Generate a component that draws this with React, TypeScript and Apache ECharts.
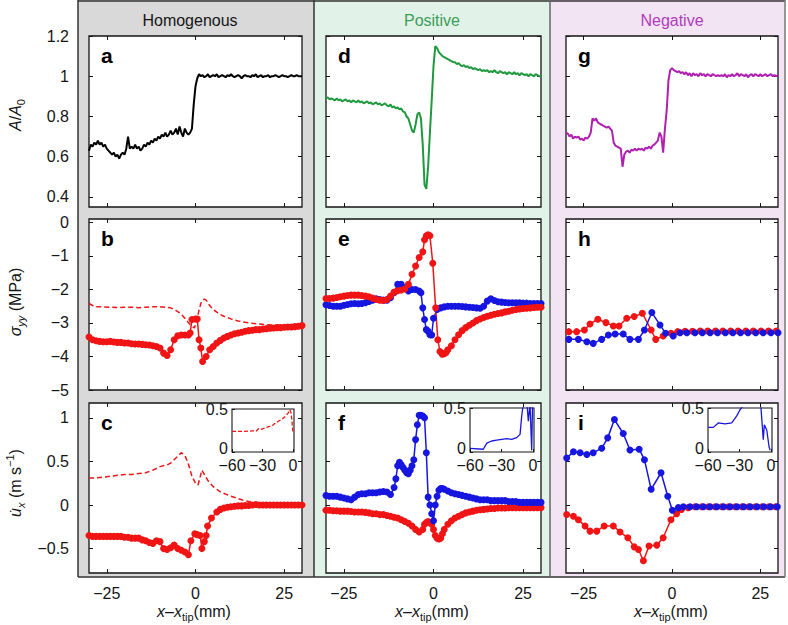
import React, { useEffect, useRef } from "react";
import * as echarts from "echarts";

// ---------------- DATA ----------------
const xTickValues = [-25, 0, 25];
const yTickValuesArea = [0.4, 0.6, 0.8, 1, 1.2];
const yTickValuesStress = [-5, -4, -3, -2, -1, 0];
const yTickValuesVel = [-0.5, 0, 0.5, 1];
const insetXTickValues = [-60, -30, 0];
const insetYTickValues = [0, 0.5];

const columnTitles = ["Homogenous", "Positive", "Negative"];
const panelLetters = [["a", "b", "c"], ["d", "e", "f"], ["g", "h", "i"]];

// a: homogeneous A/A0
const areaHom: number[][] = [[-30,0.63],[-29.5,0.66],[-29,0.65],[-28.5,0.67],[-28,0.66],[-27.5,0.68],[-27,0.66],[-26.5,0.67],[-26,0.65],[-25.5,0.66],[-25,0.64],[-24.5,0.63],[-24,0.62],[-23.5,0.61],[-23,0.62],[-22.5,0.6],[-22,0.61],[-21.5,0.59],[-21,0.61],[-20.5,0.62],[-20,0.61],[-19.5,0.64],[-19,0.7],[-18.5,0.64],[-18,0.65],[-17.5,0.64],[-17,0.66],[-16.5,0.64],[-16,0.65],[-15.5,0.63],[-15,0.64],[-14.5,0.66],[-14,0.65],[-13.5,0.67],[-13,0.66],[-12.5,0.68],[-12,0.67],[-11.5,0.69],[-11,0.68],[-10.5,0.7],[-10,0.69],[-9.5,0.71],[-9,0.7],[-8.5,0.72],[-8,0.7],[-7.5,0.71],[-7,0.73],[-6.5,0.71],[-6,0.72],[-5.5,0.74],[-5,0.71],[-4.5,0.75],[-4,0.72],[-3.5,0.7],[-3,0.74],[-2.5,0.72],[-2,0.71],[-1.5,0.72],[-1,0.74],[-0.5,0.86],[0,0.95],[0.5,0.99],[1,1.01],[1.5,1.0],[2,1.005],[2.5,0.995],[3,1.0],[3.5,1.01],[4,0.995],[4.5,1.0],[5,1.005],[5.5,1.0],[6,1.01],[6.5,0.995],[7,1.0],[7.5,1.005],[8,1.0],[8.5,0.995],[9,1.005],[9.5,1.0],[10,1.01],[10.5,1.0],[11,0.995],[11.5,1.0],[12,1.005],[12.5,1.0],[13,0.99],[13.5,1.0],[14,1.005],[14.5,1.0],[15,1.0],[15.5,0.995],[16,1.005],[16.5,1.0],[17,1.01],[17.5,0.995],[18,1.0],[18.5,1.005],[19,0.995],[19.5,1.0],[20,1.0],[20.5,1.005],[21,0.995],[21.5,1.0],[22,1.0],[22.5,1.005],[23,1.0],[23.5,0.995],[24,1.0],[24.5,1.005],[25,1.0],[25.5,1.0],[26,0.995],[26.5,1.0],[27,1.005],[27.5,1.0],[28,1.0],[28.5,1.005],[29,1.0],[29.5,1.0],[30,1.0]];

// d: positive A/A0
const areaPos: number[][] = [[-30,0.89],[-29.5,0.895],[-29,0.885],[-28.5,0.89],[-28,0.885],[-27.5,0.88],[-27,0.89],[-26.5,0.88],[-26,0.885],[-25.5,0.875],[-25,0.88],[-24.5,0.885],[-24,0.875],[-23.5,0.88],[-23,0.87],[-22.5,0.88],[-22,0.875],[-21.5,0.87],[-21,0.88],[-20.5,0.87],[-20,0.875],[-19.5,0.865],[-19,0.87],[-18.5,0.875],[-18,0.865],[-17.5,0.87],[-17,0.86],[-16.5,0.865],[-16,0.87],[-15.5,0.86],[-15,0.865],[-14.5,0.855],[-14,0.86],[-13.5,0.865],[-13,0.855],[-12.5,0.85],[-12,0.86],[-11.5,0.845],[-11,0.85],[-10.5,0.84],[-10,0.845],[-9.5,0.835],[-9,0.84],[-8.5,0.825],[-8,0.82],[-7.5,0.8],[-7,0.79],[-6.5,0.76],[-6,0.73],[-5.5,0.72],[-5,0.76],[-4.5,0.81],[-4,0.82],[-3.5,0.79],[-3,0.66],[-2.5,0.46],[-2,0.44],[-1.5,0.55],[-1,0.72],[-0.5,0.88],[0,1.05],[0.5,1.15],[1,1.14],[1.5,1.12],[2,1.11],[2.5,1.1],[3,1.095],[3.5,1.09],[4,1.085],[4.5,1.08],[5,1.075],[5.5,1.07],[6,1.07],[6.5,1.06],[7,1.065],[7.5,1.055],[8,1.05],[8.5,1.055],[9,1.045],[9.5,1.05],[10,1.04],[10.5,1.045],[11,1.035],[11.5,1.04],[12,1.035],[12.5,1.03],[13,1.035],[13.5,1.025],[14,1.03],[14.5,1.025],[15,1.03],[15.5,1.02],[16,1.025],[16.5,1.02],[17,1.03],[17.5,1.02],[18,1.015],[18.5,1.025],[19,1.02],[19.5,1.015],[20,1.02],[20.5,1.01],[21,1.02],[21.5,1.015],[22,1.01],[22.5,1.02],[23,1.01],[23.5,1.015],[24,1.005],[24.5,1.015],[25,1.01],[25.5,1.005],[26,1.01],[26.5,1.0],[27,1.01],[27.5,1.005],[28,1.0],[28.5,1.01],[29,1.005],[29.5,1.0],[30,1.0]];

// g: negative A/A0
const areaNeg: number[][] = [[-30,0.72],[-29.5,0.715],[-29,0.7],[-28.5,0.71],[-28,0.69],[-27.5,0.7],[-27,0.695],[-26.5,0.7],[-26,0.685],[-25.5,0.69],[-25,0.68],[-24.5,0.695],[-24,0.69],[-23.5,0.7],[-23,0.72],[-22.5,0.79],[-22,0.78],[-21.5,0.79],[-21,0.77],[-20.5,0.765],[-20,0.76],[-19.5,0.755],[-19,0.75],[-18.5,0.745],[-18,0.75],[-17.5,0.74],[-17,0.73],[-16.5,0.67],[-16,0.655],[-15.5,0.65],[-15,0.645],[-14.5,0.64],[-14,0.55],[-13.5,0.61],[-13,0.625],[-12.5,0.63],[-12,0.62],[-11.5,0.635],[-11,0.63],[-10.5,0.64],[-10,0.63],[-9.5,0.64],[-9,0.635],[-8.5,0.64],[-8,0.63],[-7.5,0.645],[-7,0.64],[-6.5,0.65],[-6,0.64],[-5.5,0.655],[-5,0.66],[-4.5,0.67],[-4,0.68],[-3.5,0.72],[-3,0.7],[-2.5,0.62],[-2,0.74],[-1.5,0.83],[-1,0.98],[-0.5,1.03],[0,1.04],[0.5,1.03],[1,1.025],[1.5,1.02],[2,1.025],[2.5,1.015],[3,1.02],[3.5,1.01],[4,1.02],[4.5,1.005],[5,1.015],[5.5,1.0],[6,1.015],[6.5,1.005],[7,1.01],[7.5,1.0],[8,1.015],[8.5,1.005],[9,1.01],[9.5,1.0],[10,1.01],[10.5,1.005],[11,1.0],[11.5,1.01],[12,1.005],[12.5,1.0],[13,1.005],[13.5,1.0],[14,1.005],[14.5,1.0],[15,1.01],[15.5,0.995],[16,1.005],[16.5,1.0],[17,1.01],[17.5,1.0],[18,1.005],[18.5,1.015],[19,1.0],[19.5,1.01],[20,1.005],[20.5,1.0],[21,1.01],[21.5,0.995],[22,1.005],[22.5,1.01],[23,1.0],[23.5,1.01],[24,1.005],[24.5,1.0],[25,1.01],[25.5,1.0],[26,1.005],[26.5,1.01],[27,1.0],[27.5,1.005],[28,1.01],[28.5,1.0],[29,1.005],[29.5,1.0],[30,1.005]];

// b: homogeneous stress
const stressHomMeasured: number[][] = [[-30,-3.42],[-29,-3.5],[-28,-3.53],[-27,-3.55],[-26,-3.56],[-25,-3.56],[-24,-3.55],[-23,-3.57],[-22,-3.58],[-21,-3.58],[-20,-3.6],[-19,-3.6],[-18,-3.62],[-17,-3.63],[-16,-3.63],[-15,-3.64],[-14,-3.65],[-13,-3.66],[-12,-3.68],[-11,-3.7],[-10,-3.75],[-9,-3.9],[-8,-3.97],[-7,-3.8],[-6,-3.5],[-5,-3.38],[-4,-3.36],[-3,-3.36],[-2,-3.36],[-1.5,-3.3],[-1,-2.9],[0,-2.88],[0.5,-2.88],[1,-3.5],[1.5,-3.75],[2,-4.15],[3,-4.0],[4,-3.8],[5,-3.7],[6,-3.6],[7,-3.52],[8,-3.45],[9,-3.4],[10,-3.36],[11,-3.32],[12,-3.3],[13,-3.28],[14,-3.25],[15,-3.23],[16,-3.22],[17,-3.2],[18,-3.2],[19,-3.18],[20,-3.17],[21,-3.16],[22,-3.15],[23,-3.14],[24,-3.14],[25,-3.13],[26,-3.12],[27,-3.12],[28,-3.11],[29,-3.1],[30,-3.08]];
const stressHomModel: number[][] = [[-30,-2.42],[-29,-2.48],[-28,-2.52],[-26,-2.52],[-24,-2.53],[-22,-2.54],[-20,-2.53],[-18,-2.53],[-16,-2.55],[-14,-2.53],[-12,-2.52],[-10,-2.52],[-8,-2.54],[-7,-2.55],[-6,-2.6],[-5,-2.66],[-4,-2.74],[-3,-2.86],[-2,-2.99],[-1,-3.1],[-0.3,-3.15],[0.3,-2.95],[1,-2.62],[1.5,-2.42],[2,-2.32],[2.5,-2.29],[3,-2.32],[3.5,-2.4],[4,-2.48],[5,-2.6],[6,-2.68],[7,-2.75],[8,-2.8],[10,-2.88],[12,-2.94],[14,-2.98],[16,-3.01],[18,-3.03],[20,-3.05],[22,-3.06],[24,-3.07],[26,-3.08],[28,-3.09],[30,-3.1]];

// c: homogeneous velocity
const velHomMeasured: number[][] = [[-30,-0.35],[-29,-0.36],[-28,-0.36],[-27,-0.36],[-26,-0.36],[-25,-0.36],[-24,-0.36],[-23,-0.36],[-22,-0.36],[-21,-0.36],[-20,-0.37],[-19,-0.37],[-18,-0.38],[-17,-0.38],[-16,-0.38],[-15,-0.4],[-14,-0.41],[-13,-0.43],[-12,-0.44],[-11,-0.41],[-10,-0.42],[-9,-0.5],[-8,-0.51],[-7,-0.49],[-6,-0.46],[-5,-0.5],[-4,-0.52],[-3,-0.54],[-2,-0.57],[-1.3,-0.41],[-0.2,-0.33],[0.5,-0.34],[1.3,-0.35],[1.8,-0.5],[2.5,-0.42],[3,-0.35],[3.4,-0.24],[4.5,-0.15],[6,-0.08],[7,-0.05],[8,-0.035],[9,-0.025],[10,-0.02],[11,-0.015],[12,-0.01],[13,-0.01],[14,-0.005],[15,-0.005],[16,0.0],[17,0.005],[18,0.0],[19,0.0],[20,0.0],[21,0.0],[22,0.0],[23,0.0],[24,0.0],[25,0.0],[26,0.0],[27,0.0],[28,0.0],[29,0.0],[30,0.0]];
const velHomModel: number[][] = [[-30,0.31],[-28,0.31],[-26,0.32],[-24,0.33],[-22,0.34],[-20,0.35],[-18,0.35],[-16,0.36],[-14,0.37],[-12,0.4],[-10,0.44],[-8,0.46],[-7,0.48],[-6,0.52],[-5,0.56],[-4,0.6],[-3,0.57],[-2,0.47],[-1,0.33],[0,0.25],[0.7,0.23],[1.3,0.32],[1.8,0.4],[2.5,0.35],[3.5,0.28],[5,0.21],[7,0.15],[10,0.1],[13,0.06],[16,0.03],[19,0.01],[22,0.005],[25,0.0],[30,0.0]];
const velHomInset: number[][] = [[-60,0.24],[-50,0.24],[-40,0.245],[-36,0.245],[-34,0.27],[-32,0.26],[-30,0.27],[-25,0.29],[-20,0.31],[-18,0.33],[-14,0.36],[-10,0.39],[-7,0.42],[-5,0.45],[-3,0.49],[-2,0.46],[-1,0.36],[0,0.22]];

// e: positive stress
const stressPosRed: number[][] = [[-30,-2.27],[-29,-2.27],[-28,-2.26],[-27,-2.24],[-26,-2.22],[-25,-2.2],[-24,-2.18],[-23,-2.17],[-22,-2.17],[-21,-2.17],[-20,-2.18],[-19,-2.2],[-18,-2.22],[-17,-2.26],[-16,-2.3],[-15,-2.32],[-14,-2.33],[-13,-2.3],[-12,-2.2],[-11,-2.08],[-10,-2.04],[-9,-2.02],[-8,-1.99],[-7,-1.85],[-6,-1.55],[-5,-1.3],[-4,-1.05],[-3,-0.88],[-2.5,-0.52],[-2,-0.4],[-1.5,-0.37],[-1,-0.4],[-0.2,-1.22],[0.6,-2.55],[1.2,-3.5],[1.8,-3.85],[2.4,-3.93],[3,-3.92],[3.5,-3.88],[4,-3.8],[5,-3.68],[6,-3.5],[7,-3.35],[8,-3.23],[9,-3.14],[10,-3.07],[11,-3.0],[12,-2.93],[13,-2.88],[14,-2.84],[15,-2.8],[16,-2.77],[17,-2.74],[18,-2.72],[19,-2.7],[20,-2.67],[21,-2.65],[22,-2.62],[23,-2.6],[24,-2.58],[25,-2.57],[26,-2.56],[27,-2.55],[28,-2.54],[29,-2.53],[30,-2.53]];
const stressPosBlue: number[][] = [[-30,-2.46],[-29,-2.48],[-28,-2.5],[-27,-2.5],[-26,-2.5],[-25,-2.47],[-24,-2.45],[-23,-2.43],[-22,-2.42],[-21,-2.43],[-20,-2.42],[-19,-2.4],[-18,-2.36],[-17,-2.32],[-16,-2.28],[-15,-2.3],[-14,-2.32],[-13,-2.32],[-12,-2.25],[-11,-2.1],[-10,-1.85],[-9,-1.85],[-8,-1.95],[-7,-2.05],[-6,-2.0],[-5,-2.0],[-4,-2.05],[-3.5,-2.1],[-3,-2.55],[-2.5,-2.9],[-2,-3.2],[-1.5,-3.25],[-1,-3.35],[-0.5,-3.36],[0,-2.86],[1,-2.6],[2,-2.55],[3,-2.52],[4,-2.5],[5,-2.5],[6,-2.5],[7,-2.5],[8,-2.51],[9,-2.52],[10,-2.53],[11,-2.54],[12,-2.55],[13,-2.56],[14,-2.5],[15,-2.35],[16,-2.28],[17,-2.33],[18,-2.37],[19,-2.38],[20,-2.39],[21,-2.4],[22,-2.4],[23,-2.4],[24,-2.4],[25,-2.41],[26,-2.41],[27,-2.42],[28,-2.42],[29,-2.42],[30,-2.42]];

// f: positive velocity
const velPosBlue: number[][] = [[-30,0.11],[-29,0.1],[-28,0.1],[-27,0.1],[-26,0.09],[-25,0.08],[-24,0.07],[-23,0.06],[-22,0.09],[-21,0.12],[-20,0.13],[-19,0.13],[-18,0.14],[-17,0.14],[-16,0.14],[-15,0.15],[-14,0.155],[-13,0.15],[-12,0.12],[-11,0.2],[-10.5,0.3],[-10,0.45],[-9.5,0.49],[-9,0.46],[-8.5,0.43],[-8,0.4],[-7.5,0.37],[-7,0.36],[-6.5,0.4],[-6,0.45],[-5.5,0.52],[-5,0.75],[-4.5,0.92],[-4,1.03],[-3.5,1.03],[-3,1.02],[-2.5,1.0],[-2,0.6],[-1.5,0.09],[-1,0.0],[-0.5,-0.1],[0,-0.18],[0.5,0.0],[1,0.1],[1.5,0.17],[2,0.19],[2.5,0.19],[3,0.18],[4,0.16],[5,0.14],[6,0.13],[7,0.12],[8,0.11],[9,0.1],[10,0.09],[11,0.08],[12,0.07],[13,0.06],[14,0.06],[15,0.06],[16,0.05],[17,0.05],[18,0.05],[19,0.05],[20,0.05],[21,0.04],[22,0.04],[23,0.04],[24,0.03],[25,0.03],[26,0.03],[27,0.03],[28,0.03],[29,0.03],[30,0.03]];
const velPosRed: number[][] = [[-30,-0.06],[-29,-0.06],[-28,-0.065],[-27,-0.065],[-26,-0.07],[-25,-0.07],[-24,-0.07],[-23,-0.075],[-22,-0.08],[-21,-0.08],[-20,-0.08],[-19,-0.085],[-18,-0.09],[-17,-0.1],[-16,-0.1],[-15,-0.11],[-14,-0.11],[-13,-0.12],[-12,-0.13],[-11,-0.14],[-10,-0.15],[-9,-0.17],[-8,-0.19],[-7,-0.21],[-6,-0.24],[-5,-0.28],[-4,-0.31],[-3,-0.28],[-2.5,-0.22],[-2,-0.2],[-1.5,-0.19],[-1,-0.2],[-0.5,-0.22],[0,-0.28],[0.5,-0.35],[1,-0.38],[1.5,-0.39],[2,-0.38],[2.5,-0.33],[3,-0.28],[4,-0.22],[5,-0.18],[6,-0.15],[7,-0.13],[8,-0.11],[9,-0.09],[10,-0.08],[11,-0.07],[12,-0.06],[13,-0.055],[14,-0.05],[15,-0.045],[16,-0.04],[17,-0.04],[18,-0.035],[19,-0.035],[20,-0.035],[21,-0.03],[22,-0.03],[23,-0.03],[24,-0.03],[25,-0.03],[26,-0.03],[27,-0.03],[28,-0.03],[29,-0.03],[30,-0.03]];
const velPosInset: number[][] = [[-60,0.042],[-47.3,0.031],[-44.1,0.1],[-39.3,0.125],[-34.6,0.136],[-29.8,0.144],[-25,0.152],[-20.3,0.144],[-15.5,0.163],[-12.3,0.2],[-10.7,0.41],[-9.2,0.55],[-6,0.6],[-4.4,0.35],[-2.8,0.55],[-1.2,0.02],[-0.3,0.6]];

// h: negative stress
const stressNegRed: number[][] = [[-29.2,-3.26],[-27,-3.26],[-24.8,-3.21],[-23.2,-3.03],[-21,-2.89],[-18.7,-2.99],[-16.6,-3.09],[-15,-3.09],[-12.8,-2.86],[-10.7,-2.81],[-8.4,-2.71],[-5.9,-3.21],[-4.6,-3.49],[-2.5,-3.39],[-0.3,-3.31],[1.6,-3.26],[3.7,-3.25],[5.8,-3.25],[8,-3.24],[10.1,-3.24],[12.3,-3.24],[14.4,-3.24],[16.6,-3.24],[18.7,-3.24],[20.9,-3.24],[23,-3.24],[25.2,-3.24],[27.3,-3.24],[29.5,-3.24]];
const stressNegBlue: number[][] = [[-29.2,-3.49],[-26.5,-3.49],[-24.1,-3.56],[-22.3,-3.61],[-19.9,-3.49],[-18,-3.36],[-16.1,-3.33],[-13.8,-3.33],[-11.9,-3.49],[-9.5,-3.49],[-7.8,-3.21],[-5.7,-2.69],[-3.4,-3.06],[-1.8,-3.31],[0.35,-3.39],[2.3,-3.29],[4.2,-3.29],[6.5,-3.29],[8.6,-3.29],[10.8,-3.29],[12.9,-3.29],[15.1,-3.29],[17.2,-3.29],[19.4,-3.29],[21.5,-3.29],[23.7,-3.29],[25.8,-3.29],[28,-3.29],[30,-3.29]];

// i: negative velocity
const velNegBlue: number[][] = [[-29.8,0.54],[-27.9,0.61],[-26,0.6],[-24.1,0.58],[-22.3,0.6],[-19.9,0.65],[-18.2,0.77],[-16.3,0.98],[-13.8,0.82],[-11.9,0.63],[-9.3,0.64],[-7.8,0.52],[-5.9,0.18],[-3.1,0.37],[-1.2,0.1],[0.1,-0.06],[1.8,-0.03],[3.2,-0.02],[5.1,-0.02],[7,-0.02],[8.9,-0.02],[10.8,-0.02],[12.7,-0.02],[14.6,-0.02],[16.5,-0.02],[18.4,-0.02],[20.3,-0.02],[22.2,-0.02],[24.1,-0.02],[26,-0.02],[27.9,-0.02],[29.8,-0.02]];
const velNegRed: number[][] = [[-29.8,-0.11],[-27.9,-0.13],[-26.5,-0.17],[-24.6,-0.24],[-23.2,-0.3],[-21.3,-0.3],[-19.2,-0.24],[-16.6,-0.24],[-14.7,-0.31],[-12.5,-0.375],[-10.7,-0.48],[-9.5,-0.51],[-8.1,-0.64],[-6.5,-0.47],[-4.3,-0.46],[-2.5,-0.375],[-0.3,-0.17],[1.3,-0.1],[2.7,-0.05],[4.6,-0.03],[6.5,-0.02],[8.4,-0.02],[10.3,-0.02],[12.2,-0.02],[14.1,-0.02],[16,-0.02],[17.9,-0.02],[19.8,-0.02],[21.7,-0.02],[23.6,-0.02],[25.5,-0.02],[27.4,-0.02],[29.3,-0.02]];
const velNegInset: number[][] = [[-59.7,0.28],[-54.9,0.28],[-50.2,0.33],[-43.8,0.32],[-37.4,0.33],[-32.6,0.41],[-29.5,0.48],[-26.3,0.53],[-20,0.58],[-14,0.6],[-10.4,0.56],[-9.5,0.5],[-7.3,0.14],[-6.3,0.31],[-4,0.25],[-1.8,0.06],[-0.8,0.02]];

// ---------------- LAYOUT / STYLE ----------------
const FONT = "'Liberation Sans', Arial, Helvetica, sans-serif";
const RED = "#f01414";
const BLUE = "#1616e0";
const GREEN = "#1f993d";
const MAGENTA = "#b020b0";
const INK = "#151515";

const colLeft = [89, 326, 566];
const colWidth = [213, 215, 212];
const rowTop = [36, 219, 403];
const rowHeight = [171, 171, 170];
const yRanges = [[0.35, 1.2], [-5, 0.1], [-0.78, 1.17]];
const yTickSets = [yTickValuesArea, yTickValuesStress, yTickValuesVel];
const insetBoxes = [[232, 409, 62, 43], [470, 408, 64, 44], [708, 408, 64, 44]];
const bgColumns = [[78, 236, "#d9d9d9"], [314, 236, "#e1f2e8"], [550, 235, "#f3e4f3"]];
const titleColors = [INK, "#3a9e58", "#b03cbc"];
const titleX = [190, 432, 672];

const fmt = (v: number) => (v < 0 ? "\u2212" + Math.abs(v) : String(v));
const fmtInsetY = (v: number) => (v === 0 ? "{lo|0}" : fmt(v));

function buildOption() {
  const grid: any[] = [];
  const xAxis: any[] = [];
  const yAxis: any[] = [];
  const series: any[] = [];
  const labelBase = { fontSize: 16, color: INK, fontFamily: FONT, formatter: fmt };

  const tick = (vals: number[], len = 4) => ({
    show: true, inside: true, length: len, customValues: vals,
    lineStyle: { color: INK, width: 1 },
  });
  const noLine = { show: false, onZero: false };

  for (let c = 0; c < 3; c++) {
    for (let r = 0; r < 3; r++) {
      const gi = grid.length;
      grid.push({
        left: colLeft[c], top: rowTop[r], width: colWidth[c], height: rowHeight[r],
        show: true, backgroundColor: "#ffffff", borderColor: INK, borderWidth: 1.3,
      });
      const common = { gridIndex: gi, type: "value", axisLine: noLine, splitLine: { show: false } };
      xAxis.push({ ...common, position: "bottom", min: -30, max: 30, axisTick: tick(xTickValues),
        axisLabel: { ...labelBase, show: r === 2, margin: 12, customValues: xTickValues } });
      xAxis.push({ ...common, position: "top", min: -30, max: 30, axisTick: tick(xTickValues),
        axisLabel: { show: false, customValues: xTickValues } });
      yAxis.push({ ...common, position: "left", min: yRanges[r][0], max: yRanges[r][1], axisTick: tick(yTickSets[r]),
        axisLabel: { ...labelBase, show: c === 0, margin: 20, customValues: yTickSets[r] } });
      yAxis.push({ ...common, position: "right", min: yRanges[r][0], max: yRanges[r][1], axisTick: tick(yTickSets[r]),
        axisLabel: { show: false, customValues: yTickSets[r] } });
    }
  }
  for (let c = 0; c < 3; c++) {
    const gi = grid.length;
    const [l, t, w, h] = insetBoxes[c];
    grid.push({ left: l, top: t, width: w, height: h, show: true, backgroundColor: "#ffffff", borderColor: INK, borderWidth: 1.1, z: 5 });
    const common = { gridIndex: gi, type: "value", axisLine: noLine, splitLine: { show: false }, z: 5 };
    xAxis.push({ ...common, position: "bottom", min: -60, max: 1, axisTick: tick(insetXTickValues, 3),
      axisLabel: { ...labelBase, margin: 7, lineHeight: 12, customValues: insetXTickValues } });
    yAxis.push({ ...common, position: "left", min: 0, max: 0.5, axisTick: tick(insetYTickValues, 3),
      axisLabel: { ...labelBase, formatter: fmtInsetY, margin: 4, lineHeight: 11, customValues: insetYTickValues,
        rich: { lo: { fontSize: 16, fontFamily: FONT, color: INK, lineHeight: 11, padding: [0, 0, 8, 0] } } } });
  }

  const panelAxis = (c: number, r: number) => 2 * (c * 3 + r);
  const plain = (c: number, r: number, data: number[][], color: string, width = 2) => ({
    type: "line", xAxisIndex: panelAxis(c, r), yAxisIndex: panelAxis(c, r), data,
    showSymbol: false, symbol: "none", lineStyle: { color, width }, silent: true,
  });
  const dashed = (c: number, r: number, data: number[][], color: string) => ({
    ...plain(c, r, data, color, 1.5), lineStyle: { color, width: 1.5, type: [5, 3] },
  });
  const marked = (c: number, r: number, data: number[][], color: string) => ({
    type: "line", xAxisIndex: panelAxis(c, r), yAxisIndex: panelAxis(c, r), data,
    showSymbol: true, symbol: "circle", symbolSize: 7,
    lineStyle: { color, width: 1.5 }, itemStyle: { color, borderWidth: 0 }, silent: true,
  });
  const inset = (c: number, data: number[][], color: string, isDashed: boolean) => ({
    type: "line", xAxisIndex: 18 + c, yAxisIndex: 18 + c, data, showSymbol: false, symbol: "none", z: 6,
    lineStyle: { color, width: 1.3, type: isDashed ? [4, 2] : "solid" }, silent: true,
  });

  series.push(plain(0, 0, areaHom, "#000000"));
  series.push(dashed(0, 1, stressHomModel, RED));
  series.push(marked(0, 1, stressHomMeasured, RED));
  series.push(dashed(0, 2, velHomModel, RED));
  series.push(marked(0, 2, velHomMeasured, RED));
  series.push(inset(0, velHomInset, RED, true));

  series.push(plain(1, 0, areaPos, GREEN));
  series.push(marked(1, 1, stressPosBlue, BLUE));
  series.push(marked(1, 1, stressPosRed, RED));
  series.push(marked(1, 2, velPosRed, RED));
  series.push(marked(1, 2, velPosBlue, BLUE));
  series.push(inset(1, velPosInset, BLUE, false));

  series.push(plain(2, 0, areaNeg, MAGENTA));
  series.push(marked(2, 1, stressNegRed, RED));
  series.push(marked(2, 1, stressNegBlue, BLUE));
  series.push(marked(2, 2, velNegRed, RED));
  series.push(marked(2, 2, velNegBlue, BLUE));
  series.push(inset(2, velNegInset, BLUE, false));

  // graphic
  const graphic: any[] = [];
  bgColumns.forEach(([x, w, fill]) => {
    graphic.push({ type: "rect", z: -10, silent: true, shape: { x, y: 0, width: w, height: 577 }, style: { fill } });
  });
  const ln = (x1: number, y1: number, x2: number, y2: number, stroke: string) =>
    graphic.push({ type: "line", z: -5, silent: true, shape: { x1, y1, x2, y2 }, style: { stroke, lineWidth: 1.5 } });
  ln(78, 1, 785, 1, "#333");
  ln(78, 577, 785, 577, "#333");
  ln(78, 0, 78, 577, "#333");
  ln(314, 0, 314, 577, "#333");
  ln(550, 0, 550, 577, "#666");
  ln(785, 0, 785, 577, "#777");

  columnTitles.forEach((t, c) => {
    graphic.push({ type: "text", z: 20, x: titleX[c], y: 20, silent: true,
      style: { text: t, fontSize: 16, fontFamily: FONT, fill: titleColors[c], align: "center", verticalAlign: "middle" } });
  });
  panelLetters.forEach((col, c) => col.forEach((letter, r) => {
    graphic.push({ type: "text", z: 20, x: colLeft[c] + 12, y: rowTop[r] + 19, silent: true,
      style: { text: letter, fontSize: 21, fontWeight: "bold", fontFamily: FONT, fill: "#000", align: "left", verticalAlign: "middle" } });
  }));

  const rich = {
    i: { fontSize: 16, fontStyle: "italic", fontFamily: FONT, fill: INK },
    n: { fontSize: 16, fontFamily: FONT, fill: INK },
    s: { fontSize: 11, fontFamily: FONT, fill: INK, padding: [11, 0, 0, 0] },
    si: { fontSize: 11, fontStyle: "italic", fontFamily: FONT, fill: INK, padding: [11, 0, 0, 0] },
    sup: { fontSize: 11, fontFamily: FONT, fill: INK, padding: [0, 0, 10, 0] },
  };
  const yNames = [
    ["{i|A}{n|/}{i|A}{s|0}", 115],
    ["{i|\u03c3}{si|yy}{n| (MPa)}", 302],
    ["{i|u\u0307}{si|x}{n| (m s}{sup|\u22121}{n|)}", 483],
  ];
  yNames.forEach(([text, y]) => {
    graphic.push({ type: "text", z: 20, x: 15, y, rotation: Math.PI / 2, silent: true,
      style: { text, rich, align: "center", verticalAlign: "middle", fill: INK, fontFamily: FONT, fontSize: 16 } });
  });
  [194, 432, 671].forEach((x) => {
    graphic.push({ type: "text", z: 20, x, y: 611, silent: true,
      style: { text: "{i|x}{n|\u2013}{i|x}{s|tip}{n|(mm)}", rich, align: "center", verticalAlign: "middle", fill: INK, fontFamily: FONT, fontSize: 16 } });
  });

  return { animation: false, backgroundColor: "#ffffff", grid, xAxis, yAxis, series, graphic };
}

export default function App() {
  const ref = useRef<HTMLDivElement>(null);
  useEffect(() => {
    if (!ref.current) return;
    const chart = echarts.init(ref.current, undefined, { renderer: "svg" });
    chart.setOption(buildOption() as any);
    return () => chart.dispose();
  }, []);
  return <div ref={ref} style={{ position: "absolute", left: 0, top: 0, width: 788, height: 625 }} />;
}
